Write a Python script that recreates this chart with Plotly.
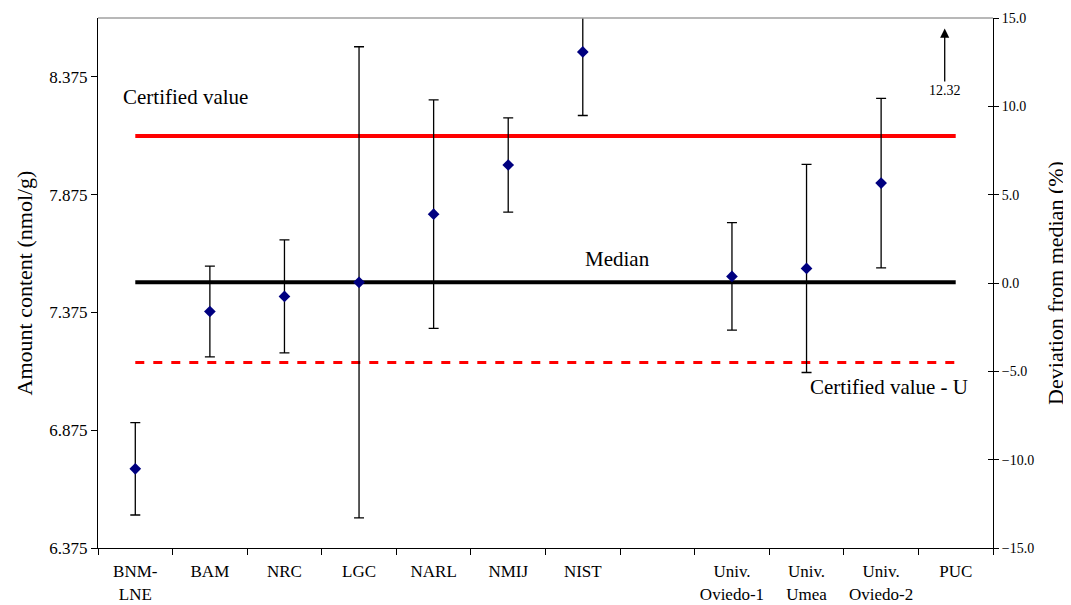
import plotly.graph_objects as go

categories = ["BNM-<br>LNE", "BAM", "NRC", "LGC", "NARL", "NMIJ", "NIST", " ",
              "Univ.<br>Oviedo-1", "Univ.<br>Umea", "Univ.<br>Oviedo-2", "PUC"]
lab_cats = ["BNM-<br>LNE", "BAM", "NRC", "LGC", "NARL", "NMIJ", "NIST",
            "Univ.<br>Oviedo-1", "Univ.<br>Umea", "Univ.<br>Oviedo-2"]
values = [6.711, 7.379, 7.443, 7.503, 7.792, 8.001, 8.481, 7.528, 7.562, 7.924]
uncert = [0.196, 0.193, 0.24, 1.0, 0.485, 0.2, 0.27, 0.228, 0.442, 0.36]

median = 7.503
certified = 8.124
certified_minus_u = 7.162
puc_deviation = 12.32

left_ticks = [6.375, 6.875, 7.375, 7.875, 8.375]
right_ticks = [-15, -10, -5, 0, 5, 10, 15]

serif = "Liberation Serif, Times New Roman, serif"

fig = go.Figure()

fig.add_trace(go.Scatter(x=categories, y=[certified] * len(categories), mode="lines",
                         line=dict(color="#ff0000", width=4), hoverinfo="skip"))
fig.add_trace(go.Scatter(x=categories, y=[median] * len(categories), mode="lines",
                         line=dict(color="#000000", width=4), hoverinfo="skip"))
fig.add_trace(go.Scatter(x=categories, y=[certified_minus_u] * len(categories), mode="lines",
                         line=dict(color="#ff0000", width=3, dash="dash"), hoverinfo="skip"))
fig.add_trace(go.Scatter(x=lab_cats, y=values, mode="markers",
                         marker=dict(symbol="diamond", size=9, color="#000080"),
                         error_y=dict(type="data", array=uncert, visible=True,
                                      color="#000000", thickness=1.3, width=5)))
# invisible traces for the right axis
fig.add_trace(go.Scatter(x=categories, y=[0] * len(categories), yaxis="y2",
                         mode="markers", marker=dict(opacity=0), hoverinfo="skip"))
fig.add_trace(go.Scatter(x=categories, y=[0] * len(categories), yaxis="y3",
                         mode="markers", marker=dict(opacity=0), hoverinfo="skip"))

fig.update_layout(
    width=1071, height=605,
    margin=dict(l=90, r=86, t=10, b=65),
    paper_bgcolor="white", plot_bgcolor="white",
    showlegend=False,
    font=dict(family=serif, color="black", size=14),
    xaxis=dict(type="category", categoryorder="array", categoryarray=categories,
               tickson="boundaries", ticks="outside", ticklen=6, tickcolor="black",
               showline=True, linecolor="black", linewidth=1, showgrid=False,
               ticklabelstandoff=8, automargin=False,
               tickfont=dict(family=serif, size=17), range=[-0.5, 11.5]),
    yaxis=dict(range=[6.375, 8.625], tickvals=left_ticks, tickformat=".3f",
               ticks="outside", ticklen=6, tickcolor="black", showline=True,
               linecolor="black", linewidth=1, showgrid=False, zeroline=False,
               automargin=False,
               tickfont=dict(family=serif, size=17),
               title=dict(text="Amount content (nmol/g)", font=dict(family=serif, size=22),
                          standoff=10)),
    yaxis2=dict(range=[-15, 15], tickvals=right_ticks, tickformat=".1f", overlaying="y",
                side="right", ticks="outside", ticklen=5, tickcolor="black",
                showline=True, linecolor="black", linewidth=1, showgrid=False,
                zeroline=False, automargin=False, tickfont=dict(family=serif, size=14),
                title=dict(text="Deviation from median (%)", font=dict(family=serif, size=22),
                           standoff=14)),
    yaxis3=dict(range=[-15, 15], tickvals=right_ticks, overlaying="y", side="right",
                ticks="inside", ticklen=5, tickcolor="black", showticklabels=False,
                showline=False, showgrid=False, zeroline=False, automargin=False),
)

fig.add_shape(type="line", xref="paper", yref="paper", x0=0, x1=1, y0=1, y1=1,
              line=dict(color="#a0a0a0", width=1.5))

fig.add_annotation(x=0.67, y=8.29, xref="x", yref="y", text="Certified value",
                   showarrow=False, font=dict(family=serif, size=21))
fig.add_annotation(x=6.47, y=7.6, xref="x", yref="y", text="Median",
                   showarrow=False, font=dict(family=serif, size=21))
fig.add_annotation(x=10.1, y=7.06, xref="x", yref="y", text="Certified value - U",
                   showarrow=False, font=dict(family=serif, size=21))
fig.add_annotation(x=11, y=14.4, xref="x", yref="y2", text=f"{puc_deviation:.2f}",
                   showarrow=True, ax=0, ay=62, arrowhead=2, arrowsize=1.4,
                   arrowwidth=1.3, arrowcolor="black", xshift=-11,
                   font=dict(family=serif, size=14))

fig.write_html("out.html")
